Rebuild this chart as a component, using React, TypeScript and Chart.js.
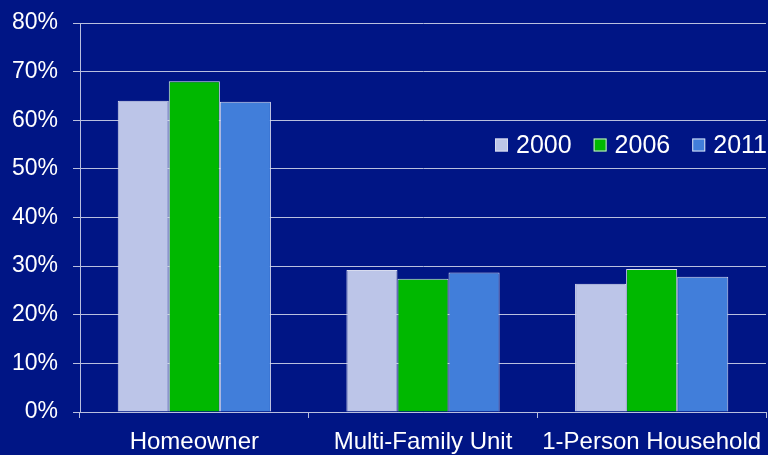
import React, { useEffect, useRef } from "react";
import { Chart, registerables } from "chart.js";

Chart.register(...registerables);

const categories = ["Homeowner", "Multi-Family Unit", "1-Person Household"];
const seriesNames = ["2000", "2006", "2011"];
const values2000 = [64.0, 29.2, 26.4];
const values2006 = [68.0, 27.4, 29.4];
const values2011 = [63.8, 28.7, 27.8];
const yTicks = [0, 10, 20, 30, 40, 50, 60, 70, 80];

const BG = "#001585";
const GRID = "#B9BFDE";
const TEXT = "#FFFFFF";
const FONT = "'Liberation Sans', Arial, sans-serif";
const colors = ["#BCC5E8", "#00B800", "#417EDA"];

const legendPlugin = {
  id: "inlineLegend",
  afterDraw(chart: any) {
    const ctx = chart.ctx;
    const ds = chart.data.datasets;
    ctx.save();
    ctx.font = `25px ${FONT}`;
    ctx.textBaseline = "middle";
    ctx.textAlign = "left";
    let x = 495;
    const cy = 145;
    const box = 13;
    for (let i = 0; i < ds.length; i++) {
      ctx.fillStyle = ds[i].backgroundColor;
      ctx.fillRect(x, cy - box / 2, box, box);
      ctx.strokeStyle = "#D8DCEF";
      ctx.lineWidth = 1;
      ctx.strokeRect(x + 0.5, cy - box / 2 + 0.5, box - 1, box - 1);
      x += box + 8;
      ctx.fillStyle = TEXT;
      ctx.fillText(ds[i].label, x, cy + 1);
      x += ctx.measureText(ds[i].label).width + 22;
    }
    ctx.restore();
  },
};

const bgPlugin = {
  id: "bgFill",
  beforeDraw(chart: any) {
    const ctx = chart.ctx;
    ctx.save();
    ctx.fillStyle = BG;
    ctx.fillRect(0, 0, chart.width, chart.height);
    ctx.restore();
  },
};

export default function App() {
  const ref = useRef<HTMLCanvasElement | null>(null);
  useEffect(() => {
    document.body.style.margin = "0";
    document.body.style.background = BG;
    if (!ref.current) return;
    const series = [values2000, values2006, values2011];
    const chart = new Chart(ref.current, {
      type: "bar",
      data: {
        labels: categories,
        datasets: seriesNames.map((name, i) => ({
          label: name,
          data: series[i],
          backgroundColor: colors[i],
          borderColor: "#D8DCEF",
          borderWidth: 1,
          barPercentage: 1,
          categoryPercentage: 0.67,
        })),
      },
      options: {
        responsive: false,
        animation: false,
        devicePixelRatio: 1,
        layout: { padding: { top: 23, right: 2, left: 0, bottom: 0 } },
        plugins: { legend: { display: false }, tooltip: { enabled: false } },
        scales: {
          x: {
            grid: {
              display: true,
              drawOnChartArea: false,
              drawTicks: true,
              tickLength: 6,
              color: GRID,
              offset: true,
            },
            border: { display: true, color: GRID, width: 1 },
            ticks: { color: TEXT, font: { family: FONT, size: 24 }, padding: 10, maxRotation: 0, autoSkip: false },
            afterFit(scale: any) {
              scale.height = 43;
              scale.paddingLeft = 0;
              scale.paddingRight = 0;
            },
          },
          y: {
            min: 0,
            max: 80,
            afterBuildTicks(scale: any) {
              scale.ticks = yTicks.map((v) => ({ value: v }));
            },
            grid: { color: GRID, lineWidth: 1, tickLength: 7, drawTicks: true },
            border: { display: true, color: GRID, width: 1 },
            ticks: {
              color: TEXT,
              font: { family: FONT, size: 23 },
              padding: 15,
              callback: (v: any) => `${v}%`,
            },
            afterFit(scale: any) {
              scale.width = 80;
              scale.paddingTop = 0;
              scale.paddingBottom = 0;
            },
          },
        },
      },
      plugins: [bgPlugin, legendPlugin],
    });
    return () => chart.destroy();
  }, []);
  return (
    <div style={{ width: 768, height: 455, background: BG }}>
      <canvas ref={ref} width={768} height={455} style={{ display: "block" }} />
    </div>
  );
}
